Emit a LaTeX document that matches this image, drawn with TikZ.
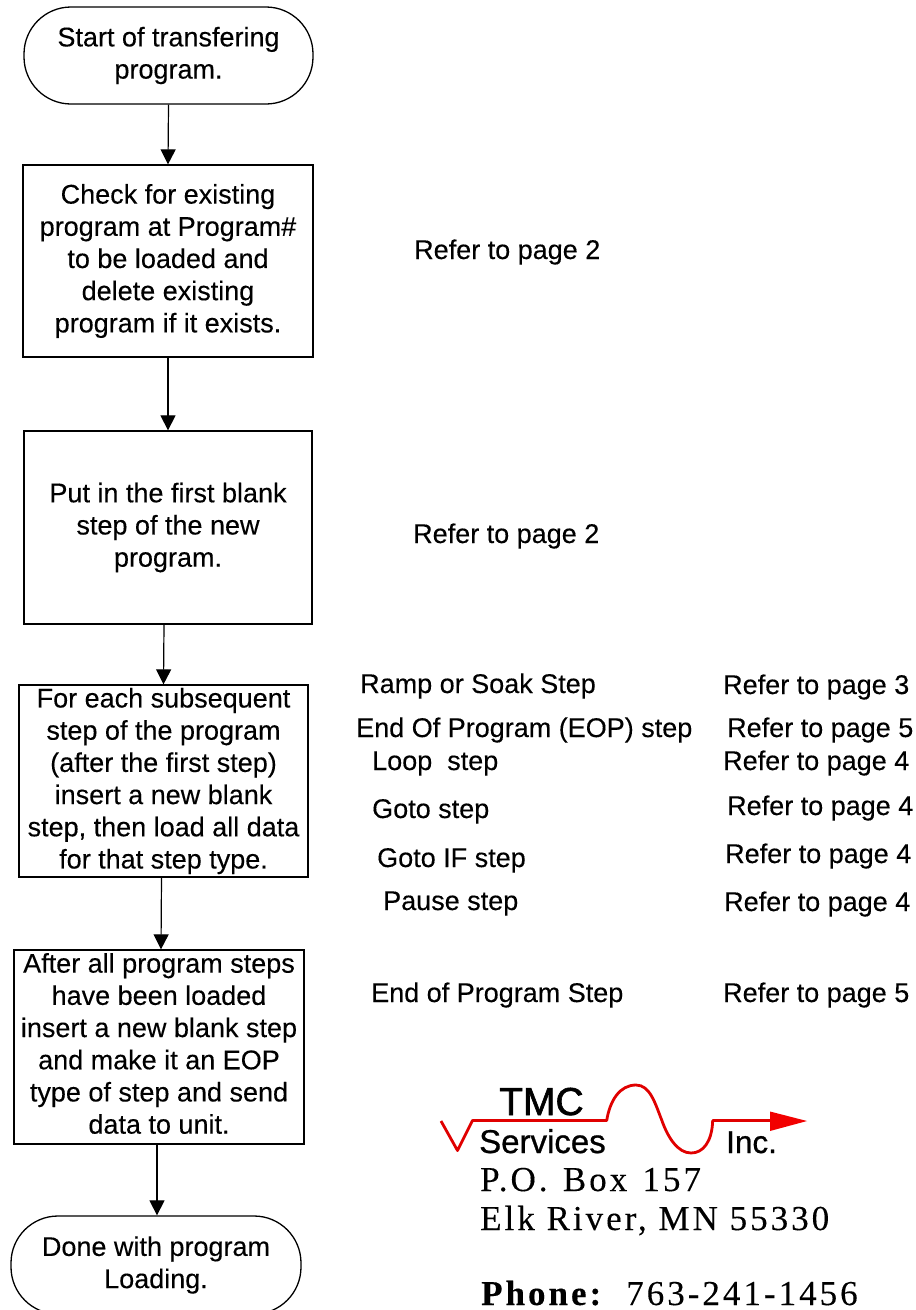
\documentclass[tikz,border=0pt]{standalone}
\usepackage{fontspec}
\setmainfont{Liberation Sans}
\newfontfamily\scanfont[FakeBold=0.25]{Liberation Sans}
\newfontfamily\logofont[FakeBold=1.6]{Liberation Sans}
\newfontfamily\svcfont[FakeBold=0.8]{Liberation Sans}
\newfontfamily\addrfont[LetterSpace=8.6,FakeBold=0.2]{Liberation Serif}
\usetikzlibrary{arrows.meta}
\tikzset{
  x=1pt,y=-1pt,
  flowbox/.style={draw=black,line width=1.3pt,fill=white,align=center,inner sep=0pt,font=\scanfont\fontsize{27}{32.2}\selectfont,text=black},
  procbox/.style={flowbox,rectangle},
  termbox/.style={flowbox,rectangle,rounded corners=47pt},
  boxlabel/.style={align=center,inner sep=0pt,font=\scanfont\fontsize{27}{32.2}\selectfont,text=black},
  flowarrow/.style={draw=black,line width=1.2pt,-{Triangle[length=15pt,width=15pt]},shorten >=0pt},
  reftext/.style={anchor=base west,inner sep=0pt,font=\scanfont\fontsize{27}{30}\selectfont,text=black},
  logored/.style={draw=red!88!black,line width=2.8pt},
  addr/.style={anchor=base west,inner sep=0pt,font=\addrfont\fontsize{35}{38}\selectfont,text=black},
  logotext/.style={anchor=base west,inner sep=0pt,text=black}
}
\begin{document}
\begin{tikzpicture}
\useasboundingbox (0,0) rectangle (916,1310);
\clip (0,0) rectangle (916,1310);
% flow boxes
\node[termbox,minimum width=289pt,minimum height=97pt] (start) at (168.5,55.5) {Start of transfering\\program.};
\node[procbox,minimum width=290pt,minimum height=192pt] (check) at (168,261) {Check for existing\\program at Program\#\\to be loaded and\\delete existing\\program if it exists.};
\node[procbox,minimum width=288pt,minimum height=193pt] (first) at (168,527.5) {Put in the first blank\\step of the new\\program.};
\node[procbox,minimum width=289pt,minimum height=192pt] (each) at (163.5,781) {For each subsequent\\step of the program\\(after the first step)\\insert a new blank\\step, then load all data\\for that step type.};
\node[procbox,minimum width=290pt,minimum height=194pt,label={[boxlabel,yshift=3.5pt]center:{After all program steps\\have been loaded\\insert a new blank step\\and make it an EOP\\type of step and send\\data to unit.}}] (after) at (159,1047) {};
\node[termbox,minimum width=290pt,minimum height=98pt] (done) at (156,1265) {Done with program\\Loading.};
% connectors
\draw[flowarrow] (start.south) -- (check.north);
\draw[flowarrow] (check.south) -- (first.north);
\draw[flowarrow] ([xshift=-4pt]first.south) -- (each.north);
\draw[flowarrow] ([xshift=-2pt]each.south) -- ([xshift=2pt]after.north);
\draw[flowarrow] ([xshift=-2pt]after.south) -- ([xshift=1pt]done.north);
% references
\node[reftext] (r1) at (414,259) {Refer to page 2};
\node[reftext] (r2) at (413,543) {Refer to page 2};
\node[reftext] (s1) at (360,693) {Ramp or Soak Step};
\node[reftext] (p1) at (723,694) {Refer to page 3};
\node[reftext] (s2) at (356,737) {End Of Program (EOP) step};
\node[reftext] (p2) at (727,737) {Refer to page 5};
\node[reftext] (s3) at (372,770) {Loop\ \ step};
\node[reftext] (p3) at (723,770) {Refer to page 4};
\node[reftext] (s4) at (372,818) {Goto step};
\node[reftext] (p4) at (727,815) {Refer to page 4};
\node[reftext] (s5) at (377,867) {Goto IF step};
\node[reftext] (p5) at (725,863) {Refer to page 4};
\node[reftext] (s6) at (383,910) {Pause step};
\node[reftext] (p6) at (724,911) {Refer to page 4};
\node[reftext] (s7) at (371,1002) {End of Program Step};
\node[reftext] (p7) at (723,1002) {Refer to page 5};
% logo
\draw[logored,line join=round] (441,1121) -- (457.5,1150.5) -- (472.5,1120.5) -- (606.7,1120.5)
  .. controls (610,1100) and (620,1085) .. (636,1085)
  .. controls (650,1085) and (655,1103) .. (661.7,1120)
  .. controls (668,1138) and (678,1153) .. (691,1153)
  .. controls (703,1153) and (712,1142) .. (712.7,1120.5) -- (772,1120.5);
\fill[red!95!black] (770,1111.5) -- (807,1121) -- (770,1131) -- cycle;
\node[logotext,font=\logofont\fontsize{39}{40}\selectfont] (tmc) at (499,1115) {TMC};
\node[logotext,font=\svcfont\fontsize{33}{34}\selectfont] (svc) at (479,1153) {Services};
\node[logotext,font=\svcfont\fontsize{31.5}{32}\selectfont] (inc) at (726,1153) {Inc.};
\node[addr] (a1) at (480,1191) {P.O.\hspace{3.5pt} Box\hspace{3.5pt} 157};
\node[addr] (a2) at (480,1230) {Elk River, MN 55330};
\node[addr] (a3) at (481,1305) {\textbf{Phone:}\hspace{22pt}763-241-1456};
\end{tikzpicture}
\end{document}
